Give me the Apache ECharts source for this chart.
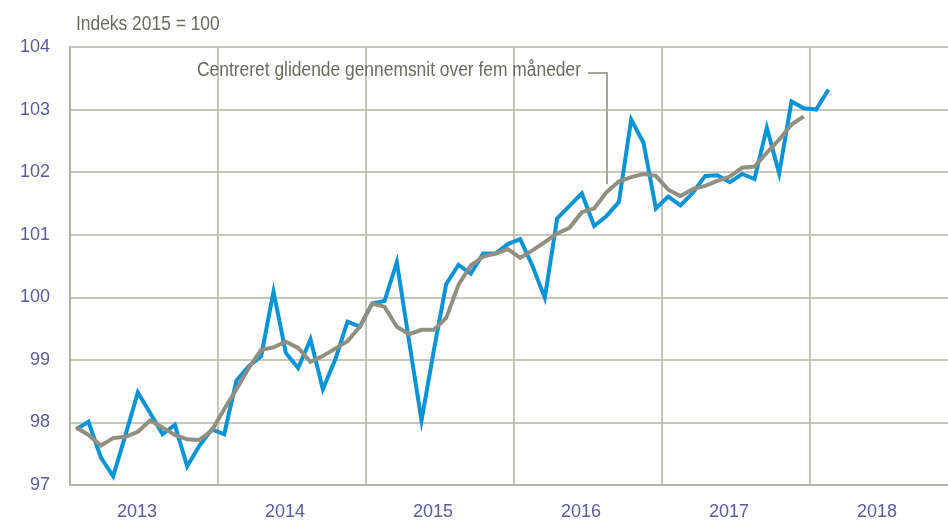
<!DOCTYPE html>
<html>
<head>
<meta charset="utf-8">
<script src="https://cdn.jsdelivr.net/npm/echarts@6/dist/echarts.min.js"></script>
<style>
html,body{margin:0;padding:0;background:#fff;overflow:hidden;width:948px;height:521px;}
#c{width:958px;height:521px;}
</style>
</head>
<body>
<div id="c"></div>
<script>
const years = ['2013', '2014', '2015', '2016', '2017', '2018'];
const yTicks = [97, 98, 99, 100, 101, 102, 103, 104];
// Monthly index, Jan 2013 - Feb 2018
const indexValues = [
  97.89, 98.01, 97.44, 97.14, 97.80, 98.48, 98.15, 97.81, 97.96, 97.30, 97.63, 97.89,
  97.81, 98.67, 98.90, 99.06, 100.09, 99.11, 98.87, 99.33, 98.53, 99.00, 99.61, 99.53,
  99.90, 99.94, 100.56, 99.29, 98.03, 99.15, 100.21, 100.52, 100.38, 100.70, 100.70, 100.85,
  100.93, 100.50, 99.99, 101.26, 101.46, 101.66, 101.14, 101.30, 101.52, 102.84, 102.47, 101.42,
  101.61, 101.47, 101.67, 101.94, 101.95, 101.84, 101.97, 101.89, 102.71, 101.98, 103.13, 103.02,
  103.00, 103.32
];
// Centred five-month moving average, Jan 2013 - Dec 2017
const movingAverage = [
  97.92, 97.80, 97.63, 97.75, 97.77, 97.85, 98.03, 97.92, 97.80, 97.73, 97.72, 97.87,
  98.21, 98.53, 98.87, 99.16, 99.20, 99.29, 99.19, 98.97, 99.06, 99.18, 99.30, 99.53,
  99.90, 99.85, 99.53, 99.41, 99.48, 99.48, 99.67, 100.20, 100.51, 100.65, 100.70, 100.77,
  100.63, 100.75, 100.88, 101.02, 101.11, 101.36, 101.42, 101.68, 101.85, 101.92, 101.97, 101.94,
  101.72, 101.62, 101.73, 101.78, 101.86, 101.93, 102.07, 102.09, 102.31, 102.52, 102.76, 102.89
];
const unitLabel = 'Indeks 2015 = 100';
const annotationText = 'Centreret glidende gennemsnit over fem måneder';
const annotationMonth = 43;

const FONT = '"Liberation Sans", Arial, sans-serif';
const toPairs = arr => arr.map((v, i) => [i + 0.5, v]);

const chart = echarts.init(document.getElementById('c'), null, {renderer: 'canvas'});
const option = {
  animation: false,
  backgroundColor: '#ffffff',
  grid: {left: 70, top: 47, right: 0, bottom: 33, containLabel: false},
  xAxis: [
    {
      type: 'value', min: 0, max: years.length * 12, interval: 12,
      axisLine: {show: true, lineStyle: {color: '#b4b2a5', width: 2}},
      axisTick: {show: false},
      axisLabel: {show: false},
      splitLine: {show: true, lineStyle: {color: '#b4b2a5', width: 1.5}}
    },
    {
      type: 'category', data: years, position: 'bottom', boundaryGap: true,
      axisLine: {show: false}, axisTick: {show: false},
      axisLabel: {color: '#5b5b9b', fontSize: 18, fontFamily: FONT, margin: 18, padding: [0, 14, 0, 0]},
      splitLine: {show: false}
    }
  ],
  yAxis: {
    type: 'value', min: yTicks[0], max: yTicks[yTicks.length - 1], interval: 1,
    axisLine: {show: true, lineStyle: {color: '#b4b2a5', width: 2}},
    axisTick: {show: false},
    axisLabel: {color: '#5b5b9b', fontSize: 18, fontFamily: FONT, margin: 20},
    splitLine: {show: true, lineStyle: {color: '#c9c7ba', width: 2}}
  },
  series: [
    {
      type: 'line', name: 'Indeks', xAxisIndex: 0, data: toPairs(indexValues),
      showSymbol: false, symbol: 'none',
      lineStyle: {color: '#0a94d6', width: 4, join: 'miter'}, z: 3
    },
    {
      type: 'line', name: 'Glidende gennemsnit', xAxisIndex: 0, data: toPairs(movingAverage),
      showSymbol: false, symbol: 'none',
      lineStyle: {color: '#918f81', width: 4, join: 'miter'}, z: 4
    }
  ]
};
chart.setOption(option);

// annotation anchored to the moving-average line
const anchor = chart.convertToPixel({xAxisIndex: 0, yAxisIndex: 0}, [annotationMonth + 0.5, movingAverage[annotationMonth]]);
const ax = Math.round(anchor[0]);
const topY = 73;
chart.setOption({
  graphic: [
    {
      type: 'text', x: 76, y: 24, scaleX: 0.87,
      style: {text: unitLabel, fill: '#6b6b60', fontSize: 20, fontFamily: FONT, align: 'left', verticalAlign: 'middle'}
    },
    {
      type: 'text', x: ax - 26, y: 70, scaleX: 0.87,
      style: {text: annotationText, fill: '#6b6b60', fontSize: 20, fontFamily: FONT, align: 'right', verticalAlign: 'middle'}
    },
    {
      type: 'polyline', z: 10,
      shape: {points: [[ax - 19, topY], [ax, topY], [ax, anchor[1] - 8]]},
      style: {stroke: '#a8a699', lineWidth: 2, fill: null}
    }
  ]
});
</script>
</body>
</html>
